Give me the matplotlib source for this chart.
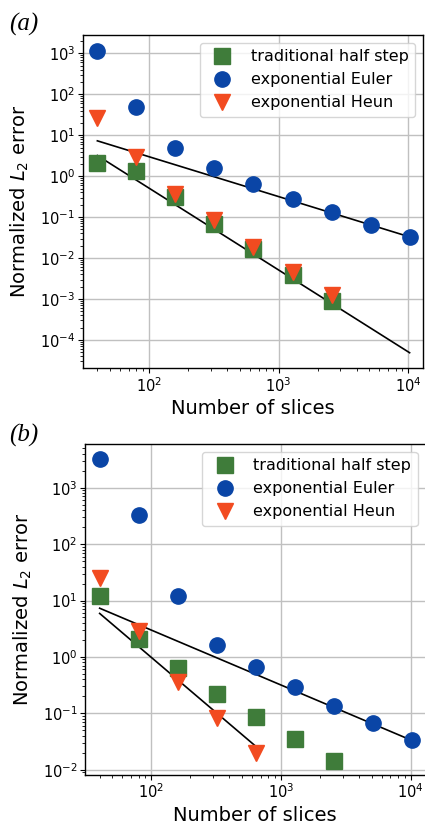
import numpy as np
import matplotlib
matplotlib.use("Agg")
import matplotlib.pyplot as plt

# ---------------- data ----------------
slices = [40, 80, 160, 320, 640, 1280, 2560, 5120, 10240]

# panel (a)
a_half_step = [2.05, 1.37, 0.305, 0.068, 0.0166, 0.0039, 0.00091]
a_euler = [1140, 50, 5.0, 1.6, 0.63, 0.28, 0.136, 0.065, 0.032]
a_heun = [26, 3.0, 0.37, 0.085, 0.019, 0.0047, 0.00126]
a_fit1_x = [40, 10240]
a_fit1_y = [7.3, 0.033]
a_fit2_x = [40, 10240]
a_fit2_y = [3.2, 4.9e-5]

# panel (b)
b_half_step = [12.0, 2.05, 0.63, 0.22, 0.087, 0.035, 0.014]
b_euler = [3250, 330, 12.2, 1.62, 0.65, 0.29, 0.135, 0.068, 0.034]
b_heun = [24.6, 2.9, 0.36, 0.081, 0.0195]
b_fit1_x = [40, 10240]
b_fit1_y = [7.3, 0.033]
b_fit2_x = [40, 640]
b_fit2_y = [5.9, 0.026]

labels = ["traditional half step", "exponential Euler", "exponential Heun"]
xlabel = "Number of slices"
ylabel = r"Normalized $L_2$ error"

GREEN = "#3f7c3a"
BLUE = "#0a45a6"
RED = "#f24b20"

W, H = 425, 823
fig = plt.figure(figsize=(W / 100, H / 100), dpi=100)


def px_axes(left, right, top, bottom):
    return fig.add_axes([left / W, 1 - bottom / H, (right - left) / W, (bottom - top) / H])


def draw(ax, half, euler, heun, f1x, f1y, f2x, f2y, ylim, yticks):
    ax.set_xscale("log")
    ax.set_yscale("log")
    ax.plot(f1x, f1y, color="black", lw=1.2, zorder=2)
    ax.plot(f2x, f2y, color="black", lw=1.2, zorder=2)
    ms = 11
    ax.plot(slices[:len(half)], half, ls="none", marker="s", ms=ms, color=GREEN,
            mec=GREEN, label=labels[0], zorder=3)
    ax.plot(slices[:len(euler)], euler, ls="none", marker="o", ms=ms, color=BLUE,
            mec=BLUE, label=labels[1], zorder=3)
    ax.plot(slices[:len(heun)], heun, ls="none", marker="v", ms=ms, color=RED,
            mec=RED, label=labels[2], zorder=4)
    ax.set_xlim(10 ** 1.489, 10 ** 4.116)
    ax.set_ylim(*ylim)
    ax.set_yticks(yticks)
    ax.set_xticks([1e2, 1e3, 1e4])
    ax.grid(True, which="major", color="#c0c0c0", lw=1.0, zorder=0)
    ax.set_axisbelow(True)
    ax.tick_params(which="major", length=3.5, width=0.8, labelsize=10.5, pad=2)
    ax.tick_params(which="minor", length=2, width=0.6)
    ax.set_xlabel(xlabel, fontsize=14, labelpad=3)
    ax.set_ylabel(ylabel, fontsize=14, labelpad=6)
    ax.legend(loc="upper right", fontsize=11.5, handlelength=2.0,
              borderaxespad=0.5, framealpha=0.8, edgecolor="#cccccc")
    for sp in ax.spines.values():
        sp.set_linewidth(1.0)


ax1 = px_axes(82.7, 423.3, 35, 368.3)
draw(ax1, a_half_step, a_euler, a_heun, a_fit1_x, a_fit1_y, a_fit2_x, a_fit2_y,
     (10 ** -4.69, 10 ** 3.447), [10.0 ** k for k in range(-4, 4)])

ax2 = px_axes(85.0, 425.6, 444, 775)
draw(ax2, b_half_step, b_euler, b_heun, b_fit1_x, b_fit1_y, b_fit2_x, b_fit2_y,
     (10 ** -2.094, 10 ** 3.775), [10.0 ** k for k in range(-2, 4)])

fig.text(9 / W, 1 - 24 / H, "(a)", fontsize=18, family="Liberation Serif",
         style="italic", va="center", ha="left")
fig.text(9 / W, 1 - 435 / H, "(b)", fontsize=18, family="Liberation Serif",
         style="italic", va="center", ha="left")

fig.savefig("out.png", dpi=100)
